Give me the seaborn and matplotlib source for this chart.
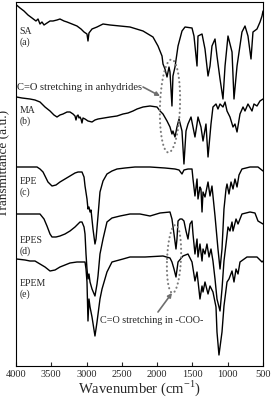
import numpy as np
import matplotlib
matplotlib.use('Agg')
import matplotlib.pyplot as plt
import seaborn as sns

# FTIR traces: wavenumber (cm-1) and stacked transmittance (a.u.)
sa_wn = [3993, 3943, 3887, 3830, 3773, 3717, 3688, 3660, 3632, 3603, 3561, 3518, 3476, 3419, 3377,
         3320, 3277, 3206, 3136, 3079, 3036, 2994, 2980, 2966, 2923, 2852, 2767, 2668, 2526, 2385,
         2200, 2059, 1988, 1931, 1917, 1889, 1860, 1832, 1818, 1790, 1776, 1747, 1704, 1648, 1605,
         1506, 1478, 1435, 1421, 1364, 1322, 1279, 1251, 1223, 1180, 1152, 1109, 1067, 1038, 996,
         939, 911, 868, 798, 755, 713, 670, 642, 585, 542, 514, 500]
sa_t = [361, 358, 355, 351, 348, 345, 347, 342, 344, 341, 343, 345, 345, 346, 347,
        345, 344, 342, 340, 337, 334, 332, 325, 333, 337, 339, 342, 341, 340, 339,
        335, 329, 320, 310, 302, 297, 289, 299, 294, 260, 290, 299, 320, 335, 339,
        338, 330, 300, 330, 332, 317, 290, 300, 320, 327, 310, 287, 267, 300, 330,
        314, 267, 300, 334, 340, 330, 307, 334, 337, 344, 350, 355]

ma_wn = [3993, 3915, 3802, 3731, 3660, 3589, 3518, 3462, 3419, 3377, 3334, 3277, 3235, 3192, 3164,
         3150, 3136, 3121, 3107, 3093, 3079, 3065, 3051, 3022, 2980, 2923, 2881, 2838, 2753, 2668,
         2569, 2484, 2413, 2342, 2285, 2200, 2101, 2002, 1959, 1917, 1860, 1818, 1790, 1776, 1747,
         1719, 1690, 1648, 1620, 1591, 1563, 1520, 1492, 1464, 1435, 1421, 1379, 1350, 1308, 1279,
         1237, 1209, 1166, 1138, 1109, 1067, 1038, 1010, 968, 925, 897, 868, 826, 783, 755,
         713, 656, 628, 585, 543, 500]
ma_t = [269, 268, 267, 266, 264, 259, 255, 251, 249, 251, 252, 254, 254, 252, 250,
        246, 250, 251, 248, 249, 247, 243, 248, 247, 245, 244, 246, 247, 248, 249,
        250, 252, 253, 255, 257, 259, 260, 259, 255, 252, 245, 239, 232, 235, 229,
        239, 247, 235, 202, 235, 242, 249, 239, 229, 242, 249, 239, 225, 242, 209,
        242, 259, 262, 257, 262, 259, 264, 255, 249, 239, 242, 234, 252, 259, 255,
        262, 255, 262, 260, 265, 267]

epe_wn = [3993, 3802, 3702, 3660, 3617, 3575, 3547, 3490, 3433, 3377, 3306, 3235, 3164, 3121, 3065,
          3036, 3022, 2994, 2980, 2966, 2951, 2937, 2909, 2881, 2866, 2838, 2810, 2767, 2711, 2640,
          2569, 2455, 2314, 2101, 1889, 1747, 1690, 1648, 1620, 1563, 1506, 1492, 1464, 1435, 1421,
          1393, 1379, 1364, 1350, 1322, 1279, 1251, 1223, 1180, 1138, 1109, 1081, 1053, 1024, 1010,
          982, 953, 925, 897, 868, 840, 798, 684, 571, 500]
epe_t = [199, 199, 199, 197, 194, 188, 184, 180, 181, 184, 187, 190, 193, 194, 194,
         189, 180, 167, 157, 159, 154, 156, 137, 122, 127, 150, 174, 185, 192, 195,
         197, 198, 199, 199, 198, 197, 196, 192, 196, 197, 197, 187, 170, 187, 167,
         179, 177, 154, 174, 169, 184, 170, 180, 150, 117, 97, 117, 157, 177, 182,
         172, 184, 177, 187, 179, 191, 197, 199, 199, 195]

epes_wn = [3993, 3802, 3660, 3603, 3561, 3518, 3490, 3433, 3377, 3306, 3235, 3164, 3093, 3065, 3036,
           3022, 3008, 2994, 2980, 2966, 2951, 2923, 2881, 2852, 2838, 2810, 2767, 2711, 2640, 2526,
           2385, 2243, 2101, 1959, 1818, 1790, 1761, 1733, 1719, 1704, 1676, 1648, 1620, 1591, 1563,
           1534, 1506, 1492, 1464, 1435, 1421, 1393, 1364, 1350, 1322, 1294, 1265, 1237, 1209, 1180,
           1152, 1109, 1081, 1053, 1024, 996, 968, 939, 925, 882, 854, 798, 684, 614, 571, 500]
epes_t = [152, 152, 152, 147, 140, 132, 129, 129, 130, 132, 135, 139, 144, 144, 139,
          132, 112, 97, 87, 92, 84, 77, 70, 82, 90, 112, 127, 144, 148, 150,
          152, 152, 150, 153, 154, 147, 132, 117, 127, 145, 147, 147, 145, 135, 127,
          142, 145, 132, 112, 127, 109, 122, 105, 117, 112, 122, 109, 117, 105, 87,
          67, 55, 77, 105, 122, 139, 135, 144, 135, 147, 142, 152, 154, 153, 145, 142]

epem_wn = [3993, 3872, 3802, 3731, 3660, 3589, 3518, 3447, 3377, 3306, 3235, 3136, 3022, 3008, 2994,
           2980, 2966, 2951, 2923, 2881, 2852, 2810, 2781, 2711, 2640, 2484, 2385, 2172, 1917, 1818,
           1790, 1761, 1733, 1704, 1634, 1563, 1506, 1464, 1435, 1393, 1364, 1350, 1322, 1279, 1251,
           1209, 1166, 1152, 1124, 1081, 1053, 1010, 982, 939, 911, 882, 854, 826, 727, 585, 514, 500]
epem_t = [107, 106, 105, 105, 102, 99, 95, 96, 99, 101, 103, 104, 104, 97, 84,
          45, 67, 59, 49, 30, 44, 67, 77, 94, 104, 107, 109, 109, 110, 108,
          104, 97, 89, 104, 110, 112, 104, 85, 94, 67, 80, 74, 84, 72, 80,
          74, 59, 34, 11, 34, 60, 84, 87, 95, 84, 97, 92, 104, 109, 109, 104, 105]

names = ['SA', 'MA', 'EPE', 'EPES', 'EPEM']
letters = ['(a)', '(b)', '(c)', '(d)', '(e)']
label_y = [330, 251, 180, 121, 78]

sns.set_style('ticks')
plt.rcParams['font.family'] = ['Liberation Serif', 'DejaVu Serif']
plt.rcParams['mathtext.fontset'] = 'custom'
plt.rcParams['mathtext.rm'] = 'Liberation Serif'

fig = plt.figure(figsize=(2.73, 4.06), dpi=100)
ax = fig.add_axes([16 / 273, 39 / 406, 247 / 273, 364 / 406])

traces = [(sa_wn, sa_t), (ma_wn, ma_t), (epe_wn, epe_t), (epes_wn, epes_t), (epem_wn, epem_t)]
for wn, t in traces:
    sns.lineplot(x=wn, y=t, ax=ax, color='black', linewidth=1.0, sort=False, estimator=None)

for name, let, y in zip(names, letters, label_y):
    ax.text(3950, y, name + '\n' + let, fontsize=7, ha='left', va='center', linespacing=1.1)


# dotted ellipses marking the C=O bands
def dotted_ellipse(cx, cy, hw, hh, shift):
    s = np.linspace(0, 2 * np.pi, 200)
    ex = cx + hw * np.cos(s) - shift * np.sin(s)
    ey = cy + hh * np.sin(s)
    ax.plot(ex, ey, color='#7a7a7a', linewidth=1.5, linestyle=(0, (0.1, 2.0)),
            dash_capstyle='round')


dotted_ellipse(1818, 260, 142, 46.5, 21)
dotted_ellipse(1761, 107, 99, 34, 21)

gray = '#6e6e6e'
ax.text(3990, 280, 'C=O stretching in anhydrides', fontsize=7.6, ha='left', va='center')
ax.annotate('', xy=(1959, 270), xytext=(2200, 279),
            arrowprops=dict(arrowstyle='-|>', color=gray, lw=1.2, mutation_scale=6,
                            shrinkA=0, shrinkB=0))
ax.text(2810, 46, 'C=O stretching in -COO-', fontsize=7.3, ha='left', va='center')
ax.annotate('', xy=(1790, 73), xytext=(1988, 54),
            arrowprops=dict(arrowstyle='-|>', color=gray, lw=1.2, mutation_scale=6,
                            shrinkA=0, shrinkB=0))

ax.set_xlim(4000, 500)
ax.set_ylim(0, 364)
ax.set_xticks(np.arange(4000, 499, -500))
ax.set_yticks([])
ax.tick_params(axis='x', direction='in', length=3, width=0.8, labelsize=7.5, pad=2)
for sp in ax.spines.values():
    sp.set_linewidth(0.8)
    sp.set_color('black')

ax.set_xlabel(r'Wavenumber (cm$^{\mathregular{-1}}$)', fontsize=10.5, labelpad=0)
ax.set_ylabel('Transmittance (a.u.)', fontsize=9.5)
ax.yaxis.set_label_coords(-0.022, 0.56)

fig.savefig('out.png', dpi=100)
